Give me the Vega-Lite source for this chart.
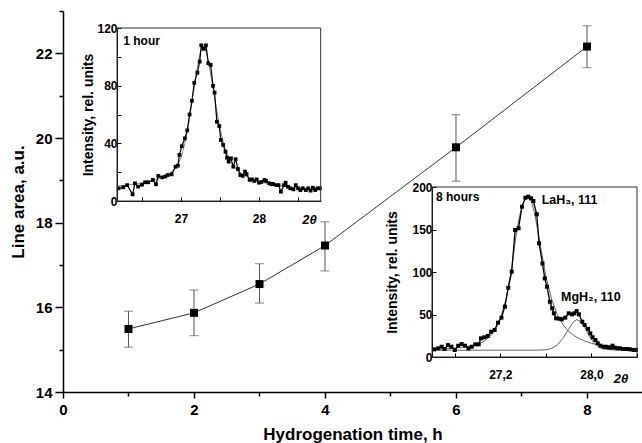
{
  "$schema": "https://vega.github.io/schema/vega-lite/v6.json",
  "width": 579,
  "height": 381,
  "autosize": {"type": "none"},
  "padding": {"left": 63, "top": 11, "right": 0, "bottom": 51},
  "background": "white",
  "config": {
    "font": "Liberation Sans",
    "view": {"stroke": null},
    "axis": {"grid": false, "domainColor": "black", "tickColor": "black", "labelColor": "black", "titleColor": "black", "labelFontWeight": "bold", "titleFontWeight": "bold", "labelFont": "Liberation Sans", "titleFont": "Liberation Sans", "labelBound": false, "labelOverlap": false, "labelFlush": false}
  },
  "datasets": {
    "main": [
      {"t": 1, "area": 15.49, "lo": 15.06, "hi": 15.91},
      {"t": 2, "area": 15.87, "lo": 15.33, "hi": 16.41},
      {"t": 3, "area": 16.55, "lo": 16.10, "hi": 17.03},
      {"t": 4, "area": 17.46, "lo": 16.86, "hi": 18.02},
      {"t": 6, "area": 19.78, "lo": 18.98, "hi": 20.55},
      {"t": 8, "area": 22.16, "lo": 21.66, "hi": 22.65}
    ],
    "h1": [
      {"a": 26.20, "i": 8.8}, {"a": 26.26, "i": 9.5}, {"a": 26.31, "i": 11}, {"a": 26.38, "i": 4.6}, {"a": 26.41, "i": 12.3},
      {"a": 26.45, "i": 10}, {"a": 26.50, "i": 11.3}, {"a": 26.54, "i": 13}, {"a": 26.58, "i": 13}, {"a": 26.64, "i": 14.6},
      {"a": 26.68, "i": 11.6}, {"a": 26.71, "i": 17.4}, {"a": 26.76, "i": 16.4}, {"a": 26.80, "i": 17}, {"a": 26.83, "i": 18},
      {"a": 26.88, "i": 18.5}, {"a": 26.93, "i": 23.8}, {"a": 26.96, "i": 24.5}, {"a": 26.98, "i": 32}, {"a": 27.01, "i": 38},
      {"a": 27.05, "i": 43.5}, {"a": 27.08, "i": 49}, {"a": 27.11, "i": 60}, {"a": 27.14, "i": 69.5}, {"a": 27.17, "i": 82},
      {"a": 27.21, "i": 89}, {"a": 27.24, "i": 96.7}, {"a": 27.26, "i": 108}, {"a": 27.29, "i": 105.5}, {"a": 27.32, "i": 108},
      {"a": 27.35, "i": 95.6}, {"a": 27.38, "i": 94.4}, {"a": 27.41, "i": 79.9}, {"a": 27.43, "i": 75.2}, {"a": 27.46, "i": 55},
      {"a": 27.49, "i": 52}, {"a": 27.51, "i": 42.4}, {"a": 27.54, "i": 38.9}, {"a": 27.57, "i": 34.2}, {"a": 27.59, "i": 30},
      {"a": 27.61, "i": 27.3}, {"a": 27.64, "i": 29.6}, {"a": 27.67, "i": 23.8}, {"a": 27.70, "i": 29}, {"a": 27.73, "i": 22.2},
      {"a": 27.76, "i": 18}, {"a": 27.79, "i": 17.4}, {"a": 27.82, "i": 20.4}, {"a": 27.84, "i": 18.7}, {"a": 27.88, "i": 14.6},
      {"a": 27.91, "i": 15}, {"a": 27.94, "i": 13.9}, {"a": 27.97, "i": 15}, {"a": 28.00, "i": 12.7}, {"a": 28.03, "i": 13.2},
      {"a": 28.07, "i": 14.6}, {"a": 28.09, "i": 13.9}, {"a": 28.13, "i": 12.3}, {"a": 28.16, "i": 11.6}, {"a": 28.18, "i": 11.8},
      {"a": 28.22, "i": 11}, {"a": 28.25, "i": 11}, {"a": 28.28, "i": 6.5}, {"a": 28.32, "i": 11}, {"a": 28.34, "i": 12.7},
      {"a": 28.37, "i": 9.9}, {"a": 28.40, "i": 8.8}, {"a": 28.44, "i": 8.1}, {"a": 28.47, "i": 11}, {"a": 28.50, "i": 8.8},
      {"a": 28.53, "i": 7.6}, {"a": 28.56, "i": 8.8}, {"a": 28.60, "i": 7.6}, {"a": 28.63, "i": 8.8}, {"a": 28.66, "i": 7.2},
      {"a": 28.69, "i": 9.2}, {"a": 28.72, "i": 7.6}, {"a": 28.75, "i": 8.8}, {"a": 28.78, "i": 8.8}
    ],
    "h1fit": [
      {"a": 26.18, "i": 10.5}, {"a": 26.3, "i": 11}, {"a": 26.4, "i": 11.8}, {"a": 26.5, "i": 12.6}, {"a": 26.6, "i": 13.6},
      {"a": 26.7, "i": 15}, {"a": 26.8, "i": 17}, {"a": 26.9, "i": 21}, {"a": 26.95, "i": 24}, {"a": 27.0, "i": 30},
      {"a": 27.05, "i": 40}, {"a": 27.1, "i": 54}, {"a": 27.15, "i": 72}, {"a": 27.2, "i": 90}, {"a": 27.25, "i": 104},
      {"a": 27.28, "i": 108}, {"a": 27.31, "i": 106}, {"a": 27.35, "i": 97}, {"a": 27.4, "i": 82}, {"a": 27.45, "i": 65},
      {"a": 27.5, "i": 50}, {"a": 27.55, "i": 39}, {"a": 27.6, "i": 31}, {"a": 27.65, "i": 26}, {"a": 27.7, "i": 22.5},
      {"a": 27.8, "i": 18}, {"a": 27.9, "i": 15.5}, {"a": 28.0, "i": 13.5}, {"a": 28.1, "i": 12.2}, {"a": 28.2, "i": 11.2},
      {"a": 28.3, "i": 10.3}, {"a": 28.4, "i": 9.6}, {"a": 28.5, "i": 9}, {"a": 28.6, "i": 8.6}, {"a": 28.79, "i": 8.2}
    ],
    "h8": [
      {"a": 26.62, "i": 9}, {"a": 26.655, "i": 10.2}, {"a": 26.685, "i": 12.1}, {"a": 26.71, "i": 9.4}, {"a": 26.74, "i": 14},
      {"a": 26.77, "i": 12.1}, {"a": 26.80, "i": 8.2}, {"a": 26.83, "i": 13.3}, {"a": 26.86, "i": 15.3}, {"a": 26.89, "i": 13.3},
      {"a": 26.92, "i": 10.2}, {"a": 26.95, "i": 12.1}, {"a": 26.98, "i": 14.9}, {"a": 27.01, "i": 14.9}, {"a": 27.03, "i": 22},
      {"a": 27.06, "i": 23.2}, {"a": 27.09, "i": 24.7}, {"a": 27.12, "i": 29.8}, {"a": 27.15, "i": 31.8}, {"a": 27.18, "i": 40.4},
      {"a": 27.21, "i": 46.3}, {"a": 27.24, "i": 59.2}, {"a": 27.27, "i": 81.5}, {"a": 27.30, "i": 100.4}, {"a": 27.33, "i": 149.4},
      {"a": 27.36, "i": 151.4}, {"a": 27.39, "i": 176.8}, {"a": 27.42, "i": 187.4}, {"a": 27.445, "i": 188.6}, {"a": 27.47, "i": 186.7},
      {"a": 27.49, "i": 183.5}, {"a": 27.52, "i": 167.9}, {"a": 27.54, "i": 133.7}, {"a": 27.57, "i": 110}, {"a": 27.59, "i": 92.5},
      {"a": 27.61, "i": 82.7}, {"a": 27.635, "i": 65}, {"a": 27.655, "i": 57.3}, {"a": 27.67, "i": 51.4}, {"a": 27.69, "i": 45.5},
      {"a": 27.72, "i": 45}, {"a": 27.74, "i": 44.3}, {"a": 27.77, "i": 46.3}, {"a": 27.80, "i": 51.4}, {"a": 27.83, "i": 50.2},
      {"a": 27.85, "i": 51.4}, {"a": 27.87, "i": 54}, {"a": 27.89, "i": 50.2}, {"a": 27.92, "i": 41.5}, {"a": 27.94, "i": 37.6},
      {"a": 27.97, "i": 33}, {"a": 27.99, "i": 27.8}, {"a": 28.01, "i": 23.2}, {"a": 28.035, "i": 20}, {"a": 28.055, "i": 16.1},
      {"a": 28.08, "i": 13.3}, {"a": 28.11, "i": 12}, {"a": 28.13, "i": 12}, {"a": 28.15, "i": 11.4}, {"a": 28.17, "i": 11},
      {"a": 28.185, "i": 13.3}, {"a": 28.205, "i": 11}, {"a": 28.23, "i": 10.2}, {"a": 28.25, "i": 10.2}, {"a": 28.28, "i": 9.4},
      {"a": 28.31, "i": 9.4}, {"a": 28.34, "i": 9}, {"a": 28.37, "i": 8.2}, {"a": 28.39, "i": 8.2}
    ],
    "la": [
      {"a": 26.6, "i": 9}, {"a": 26.7, "i": 9.5}, {"a": 26.8, "i": 10.5}, {"a": 26.9, "i": 12}, {"a": 27.0, "i": 15},
      {"a": 27.05, "i": 18}, {"a": 27.1, "i": 23}, {"a": 27.15, "i": 31}, {"a": 27.2, "i": 45}, {"a": 27.25, "i": 68},
      {"a": 27.3, "i": 105}, {"a": 27.33, "i": 135}, {"a": 27.36, "i": 160}, {"a": 27.39, "i": 178}, {"a": 27.42, "i": 186},
      {"a": 27.44, "i": 187}, {"a": 27.47, "i": 184}, {"a": 27.5, "i": 170}, {"a": 27.53, "i": 148}, {"a": 27.56, "i": 125},
      {"a": 27.6, "i": 95}, {"a": 27.65, "i": 68}, {"a": 27.7, "i": 50}, {"a": 27.75, "i": 38}, {"a": 27.8, "i": 30},
      {"a": 27.85, "i": 25}, {"a": 27.9, "i": 21}, {"a": 28.0, "i": 16}, {"a": 28.1, "i": 13}, {"a": 28.2, "i": 11.5},
      {"a": 28.3, "i": 10.5}, {"a": 28.4, "i": 10}
    ],
    "mg": [
      {"a": 26.6, "i": 8}, {"a": 27.5, "i": 8}, {"a": 27.6, "i": 8.5}, {"a": 27.65, "i": 10}, {"a": 27.7, "i": 14},
      {"a": 27.75, "i": 22}, {"a": 27.8, "i": 33}, {"a": 27.84, "i": 41}, {"a": 27.87, "i": 44}, {"a": 27.9, "i": 42},
      {"a": 27.94, "i": 35}, {"a": 27.98, "i": 25}, {"a": 28.02, "i": 17}, {"a": 28.06, "i": 12}, {"a": 28.1, "i": 9.5},
      {"a": 28.2, "i": 8.2}, {"a": 28.4, "i": 8}
    ],
    "one": [{"k": 1}]
  },
  "layer": [
    {
      "data": {"name": "main"},
      "mark": {"type": "rule", "color": "#555", "strokeWidth": 1},
      "encoding": {
        "x": {"field": "t", "type": "quantitative", "scale": {"domain": [0, 8.84], "nice": false, "zero": false},
          "axis": {"orient": "bottom", "title": "Hydrogenation time, h", "values": [0, 2, 4, 6, 8],
            "tickSize": 6, "labelPadding": 4, "labelFontSize": 15, "titleFontSize": 17, "titlePadding": 9, "domainWidth": 1.5, "tickWidth": 1.5}},
        "y": {"field": "lo", "type": "quantitative", "scale": {"domain": [14, 23], "nice": false, "zero": false},
          "axis": {"orient": "left", "title": "Line area, a.u.", "values": [14, 16, 18, 20, 22],
            "tickSize": 8, "labelPadding": 3, "labelFontSize": 15, "titleFontSize": 17, "titlePadding": 8, "domainWidth": 1.5, "tickWidth": 1.5}},
        "y2": {"field": "hi"}
      }
    },
    {
      "data": {"name": "main"},
      "mark": {"type": "tick", "orient": "horizontal", "color": "#555", "size": 9, "thickness": 1},
      "encoding": {
        "x": {"field": "t", "type": "quantitative", "scale": {"domain": [0, 8.84], "nice": false, "zero": false}, "axis": null},
        "y": {"field": "lo", "type": "quantitative", "scale": {"domain": [14, 23], "nice": false, "zero": false}, "axis": null}
      }
    },
    {
      "data": {"name": "main"},
      "mark": {"type": "tick", "orient": "horizontal", "color": "#555", "size": 9, "thickness": 1},
      "encoding": {
        "x": {"field": "t", "type": "quantitative", "scale": {"domain": [0, 8.84], "nice": false, "zero": false}, "axis": null},
        "y": {"field": "hi", "type": "quantitative", "scale": {"domain": [14, 23], "nice": false, "zero": false}, "axis": null}
      }
    },
    {
      "data": {"name": "main"},
      "mark": {"type": "line", "color": "#333", "strokeWidth": 1},
      "encoding": {
        "x": {"field": "t", "type": "quantitative", "scale": {"domain": [0, 8.84], "nice": false, "zero": false},
          "axis": {"orient": "bottom", "title": null, "values": [1, 3, 5, 7], "labels": false, "domain": false, "tickSize": 4, "tickWidth": 1.5}},
        "y": {"field": "area", "type": "quantitative", "scale": {"domain": [14, 23], "nice": false, "zero": false},
          "axis": {"orient": "left", "title": null, "values": [15, 17, 19, 21, 23], "labels": false, "domain": false, "tickSize": 4, "tickWidth": 1.5}}
      }
    },
    {
      "data": {"name": "main"},
      "mark": {"type": "square", "size": 64, "color": "black", "filled": true, "opacity": 1},
      "encoding": {
        "x": {"field": "t", "type": "quantitative", "scale": {"domain": [0, 8.84], "nice": false, "zero": false}, "axis": null},
        "y": {"field": "area", "type": "quantitative", "scale": {"domain": [14, 23], "nice": false, "zero": false}, "axis": null}
      }
    },
    {
      "data": {"name": "h1fit"},
      "mark": {"type": "line", "color": "#888", "strokeWidth": 1},
      "encoding": {
        "x": {"field": "a", "type": "quantitative", "scale": {"domain": [26.18, 28.79], "range": [54, 257.7], "nice": false, "zero": false},
          "axis": {"orient": "bottom", "offset": -191, "title": null, "values": [26.5, 27, 27.5, 28, 28.5],
            "labelExpr": "datum.value % 1 === 0 ? format(datum.value, 'd') : ''", "tickSize": -4, "labelPadding": 16, "labelFontSize": 12, "domainWidth": 1}},
        "y": {"field": "i", "type": "quantitative", "scale": {"domain": [0, 120], "range": [190, 17], "nice": false, "zero": false},
          "axis": {"orient": "left", "offset": -54, "title": "Intensity, rel. units", "values": [0, 20, 40, 60, 80, 100, 120],
            "labelExpr": "datum.value % 40 === 0 ? datum.label : ''", "tickSize": -4, "labelPadding": 4, "labelFontSize": 12, "titleFontSize": 14, "titlePadding": 1, "domainWidth": 1}}
      }
    },
    {
      "data": {"name": "h1"},
      "mark": {"type": "line", "color": "black", "strokeWidth": 1.2},
      "encoding": {
        "x": {"field": "a", "type": "quantitative", "scale": {"domain": [26.18, 28.79], "range": [54, 257.7], "nice": false, "zero": false}, "axis": null},
        "y": {"field": "i", "type": "quantitative", "scale": {"domain": [0, 120], "range": [190, 17], "nice": false, "zero": false}, "axis": null}
      }
    },
    {
      "data": {"name": "h1"},
      "mark": {"type": "square", "size": 14, "color": "black", "filled": true, "opacity": 1},
      "encoding": {
        "x": {"field": "a", "type": "quantitative", "scale": {"domain": [26.18, 28.79], "range": [54, 257.7], "nice": false, "zero": false}, "axis": null},
        "y": {"field": "i", "type": "quantitative", "scale": {"domain": [0, 120], "range": [190, 17], "nice": false, "zero": false}, "axis": null}
      }
    },
    {
      "data": {"name": "one"},
      "mark": {"type": "rect", "fill": "transparent", "stroke": "#333", "strokeWidth": 1},
      "encoding": {
        "x": {"datum": 26.18, "type": "quantitative", "scale": {"domain": [26.18, 28.79], "range": [54, 257.7], "nice": false, "zero": false}, "axis": null},
        "x2": {"datum": 28.79},
        "y": {"datum": 0, "type": "quantitative", "scale": {"domain": [0, 120], "range": [190, 17], "nice": false, "zero": false}, "axis": null},
        "y2": {"datum": 120}
      }
    },
    {
      "data": {"name": "one"},
      "mark": {"type": "text", "text": "1 hour", "align": "left", "baseline": "middle", "fontWeight": "bold", "fontSize": 12, "color": "black"},
      "encoding": {
        "x": {"datum": 26.26, "type": "quantitative", "scale": {"domain": [26.18, 28.79], "range": [54, 257.7], "nice": false, "zero": false}, "axis": null},
        "y": {"datum": 111.2, "type": "quantitative", "scale": {"domain": [0, 120], "range": [190, 17], "nice": false, "zero": false}, "axis": null}
      }
    },
    {
      "data": {"name": "one"},
      "mark": {"type": "text", "text": "2θ", "align": "center", "baseline": "middle", "fontWeight": "bold", "fontStyle": "italic", "fontSize": 13, "color": "black"},
      "encoding": {
        "x": {"datum": 28.646, "type": "quantitative", "scale": {"domain": [26.18, 28.79], "range": [54, 257.7], "nice": false, "zero": false}, "axis": null},
        "y": {"datum": -13.2, "type": "quantitative", "scale": {"domain": [0, 120], "range": [190, 17], "nice": false, "zero": false}, "axis": null}
      }
    },
    {
      "data": {"name": "mg"},
      "mark": {"type": "line", "color": "#666", "strokeWidth": 1},
      "encoding": {
        "x": {"field": "a", "type": "quantitative", "scale": {"domain": [26.6, 28.4], "range": [369, 574], "nice": false, "zero": false},
          "axis": {"orient": "bottom", "offset": -35, "title": null, "values": [26.8, 27.2, 27.6, 28.0, 28.4],
            "labelExpr": "(abs(datum.value - 27.2) < 0.01 || abs(datum.value - 28) < 0.01) ? replace(format(datum.value, '.1f'), '.', ',') : ''",
            "tickSize": -4, "labelPadding": 16, "labelFontSize": 12, "domainWidth": 1}},
        "y": {"field": "i", "type": "quantitative", "scale": {"domain": [0, 200], "range": [346, 176], "nice": false, "zero": false},
          "axis": {"orient": "left", "offset": -369, "title": "Intensity, rel. units", "values": [0, 50, 100, 150, 200],
            "tickSize": -4, "labelPadding": 4, "labelFontSize": 12, "titleFontSize": 14, "titlePadding": 12, "domainWidth": 1}}
      }
    },
    {
      "data": {"name": "la"},
      "mark": {"type": "line", "color": "#666", "strokeWidth": 1},
      "encoding": {
        "x": {"field": "a", "type": "quantitative", "scale": {"domain": [26.6, 28.4], "range": [369, 574], "nice": false, "zero": false}, "axis": null},
        "y": {"field": "i", "type": "quantitative", "scale": {"domain": [0, 200], "range": [346, 176], "nice": false, "zero": false}, "axis": null}
      }
    },
    {
      "data": {"name": "h8"},
      "mark": {"type": "line", "color": "black", "strokeWidth": 1.3},
      "encoding": {
        "x": {"field": "a", "type": "quantitative", "scale": {"domain": [26.6, 28.4], "range": [369, 574], "nice": false, "zero": false}, "axis": null},
        "y": {"field": "i", "type": "quantitative", "scale": {"domain": [0, 200], "range": [346, 176], "nice": false, "zero": false}, "axis": null}
      }
    },
    {
      "data": {"name": "h8"},
      "mark": {"type": "square", "size": 16, "color": "black", "filled": true, "opacity": 1},
      "encoding": {
        "x": {"field": "a", "type": "quantitative", "scale": {"domain": [26.6, 28.4], "range": [369, 574], "nice": false, "zero": false}, "axis": null},
        "y": {"field": "i", "type": "quantitative", "scale": {"domain": [0, 200], "range": [346, 176], "nice": false, "zero": false}, "axis": null}
      }
    },
    {
      "data": {"name": "one"},
      "mark": {"type": "rect", "fill": "transparent", "stroke": "#333", "strokeWidth": 1},
      "encoding": {
        "x": {"datum": 26.6, "type": "quantitative", "scale": {"domain": [26.6, 28.4], "range": [369, 574], "nice": false, "zero": false}, "axis": null},
        "x2": {"datum": 28.4},
        "y": {"datum": 0, "type": "quantitative", "scale": {"domain": [0, 200], "range": [346, 176], "nice": false, "zero": false}, "axis": null},
        "y2": {"datum": 200}
      }
    },
    {
      "data": {"name": "one"},
      "mark": {"type": "text", "text": "8 hours", "align": "left", "baseline": "middle", "fontWeight": "bold", "fontSize": 12, "color": "black"},
      "encoding": {
        "x": {"datum": 26.635, "type": "quantitative", "scale": {"domain": [26.6, 28.4], "range": [369, 574], "nice": false, "zero": false}, "axis": null},
        "y": {"datum": 188.8, "type": "quantitative", "scale": {"domain": [0, 200], "range": [346, 176], "nice": false, "zero": false}, "axis": null}
      }
    },
    {
      "data": {"name": "one"},
      "mark": {"type": "text", "text": "LaH₃, 111", "align": "left", "baseline": "middle", "fontWeight": "bold", "fontSize": 12.5, "color": "black"},
      "encoding": {
        "x": {"datum": 27.563, "type": "quantitative", "scale": {"domain": [26.6, 28.4], "range": [369, 574], "nice": false, "zero": false}, "axis": null},
        "y": {"datum": 184.7, "type": "quantitative", "scale": {"domain": [0, 200], "range": [346, 176], "nice": false, "zero": false}, "axis": null}
      }
    },
    {
      "data": {"name": "one"},
      "mark": {"type": "text", "text": "MgH₂, 110", "align": "left", "baseline": "middle", "fontWeight": "bold", "fontSize": 12.5, "color": "black"},
      "encoding": {
        "x": {"datum": 27.733, "type": "quantitative", "scale": {"domain": [26.6, 28.4], "range": [369, 574], "nice": false, "zero": false}, "axis": null},
        "y": {"datum": 70.9, "type": "quantitative", "scale": {"domain": [0, 200], "range": [346, 176], "nice": false, "zero": false}, "axis": null}
      }
    },
    {
      "data": {"name": "one"},
      "mark": {"type": "text", "text": "2θ", "align": "center", "baseline": "middle", "fontWeight": "bold", "fontStyle": "italic", "fontSize": 13, "color": "black"},
      "encoding": {
        "x": {"datum": 28.26, "type": "quantitative", "scale": {"domain": [26.6, 28.4], "range": [369, 574], "nice": false, "zero": false}, "axis": null},
        "y": {"datum": -25.9, "type": "quantitative", "scale": {"domain": [0, 200], "range": [346, 176], "nice": false, "zero": false}, "axis": null}
      }
    }
  ],
  "resolve": {"scale": {"x": "independent", "y": "independent"}, "axis": {"x": "independent", "y": "independent"}}
}
